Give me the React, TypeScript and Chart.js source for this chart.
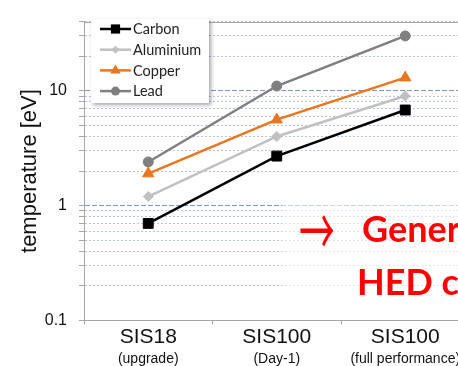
import React, { useEffect, useRef } from 'react';
import { Chart, registerables } from 'chart.js';

Chart.register(...registerables);

// ---- data ----
const categories = ['SIS18', 'SIS100', 'SIS100'];
const subLabels = ['(upgrade)', '(Day-1)', '(full performance)'];
const seriesNames = ['Carbon', 'Aluminium', 'Copper', 'Lead'];
const carbon = [0.7, 2.7, 6.8];
const aluminium = [1.2, 4.0, 9.0];
const copper = [1.9, 5.6, 13];
const lead = [2.4, 11, 30];
const yMin = 0.1;
const yMax = 40;
const yTickLabels = [0.1, 1, 10];

// ---- styles ----
const AXIS_FONT = '"Liberation Sans", Arial, sans-serif';
const LEGEND_FONT = 'Lato, "Open Sans", sans-serif';
const GRAY = '#a6a6a6';
const CANVAS_W = 500;
const CANVAS_H = 366;

const near = (a: number, b: number) => Math.abs(a - b) < 1e-9 * Math.max(1, Math.abs(b));
const isDecade = (v: number) => yTickLabels.some((t) => near(v, t));
const isWholeStep = (v: number) => {
  const m = v / Math.pow(10, Math.floor(Math.log10(v) + 1e-9));
  return Math.abs(m - Math.round(m)) < 1e-6;
};

function drawMarker(ctx: CanvasRenderingContext2D, style: string, x: number, y: number, r: number, color: string) {
  ctx.save();
  ctx.fillStyle = color;
  ctx.strokeStyle = color;
  ctx.beginPath();
  if (style === 'rect') {
    const s = r * Math.SQRT1_2;
    ctx.rect(x - s, y - s, 2 * s, 2 * s);
  } else if (style === 'rectRot') {
    ctx.moveTo(x, y - r);
    ctx.lineTo(x + r, y);
    ctx.lineTo(x, y + r);
    ctx.lineTo(x - r, y);
    ctx.closePath();
  } else if (style === 'triangle') {
    for (let k = 0; k < 3; k++) {
      const a = (k * 2 * Math.PI) / 3;
      const px = x + Math.sin(a) * r;
      const py = y - Math.cos(a) * r;
      if (k === 0) ctx.moveTo(px, py);
      else ctx.lineTo(px, py);
    }
    ctx.closePath();
  } else {
    ctx.arc(x, y, r, 0, Math.PI * 2);
  }
  ctx.fill();
  ctx.restore();
}

// frame on top of the plot area and the boxed legend
const framePlugin = {
  id: 'frameAndLegend',
  beforeDatasetsDraw(chart: any) {
    const { ctx, chartArea } = chart;
    ctx.save();
    ctx.strokeStyle = GRAY;
    ctx.lineWidth = 1;
    ctx.beginPath();
    const y = Math.round(chartArea.top) + 0.5;
    ctx.moveTo(chartArea.left, y);
    ctx.lineTo(chartArea.right, y);
    ctx.stroke();
    ctx.restore();
  },
  afterDraw(chart: any) {
    const ctx: CanvasRenderingContext2D = chart.ctx;
    const bx = 91;
    const by = 19;
    const bw = 118;
    const bh = 84;
    ctx.save();
    ctx.shadowColor = 'rgba(0,0,0,0.35)';
    ctx.shadowBlur = 4;
    ctx.shadowOffsetX = 2;
    ctx.shadowOffsetY = 2;
    ctx.fillStyle = '#ffffff';
    ctx.fillRect(bx, by, bw, bh);
    ctx.restore();

    const sizes: Record<string, number> = { rect: 6.5, rectRot: 4, triangle: 6, circle: 4.5 };
    chart.data.datasets.forEach((ds: any, i: number) => {
      const cy = by + 10 + i * 20.7;
      const x0 = bx + 9;
      const x1 = bx + 40;
      ctx.save();
      ctx.strokeStyle = ds.borderColor;
      ctx.lineWidth = 2.5;
      ctx.beginPath();
      ctx.moveTo(x0, cy);
      ctx.lineTo(x1, cy);
      ctx.stroke();
      ctx.restore();
      drawMarker(ctx, ds.pointStyle, (x0 + x1) / 2, cy, sizes[ds.pointStyle] || 4, ds.borderColor);
      ctx.save();
      ctx.fillStyle = '#222';
      ctx.font = `14.5px ${LEGEND_FONT}`;
      ctx.textBaseline = 'middle';
      ctx.textAlign = 'left';
      ctx.fillText(ds.label, x1 + 2, cy + 0.5);
      ctx.restore();
    });
  },
};

export default function App() {
  const canvasRef = useRef<HTMLCanvasElement | null>(null);

  useEffect(() => {
    const canvas = canvasRef.current;
    if (!canvas) return;

    const mk = (label: string, data: number[], color: string, pointStyle: string, radius: number) => ({
      label,
      data,
      xAxisID: 'x',
      yAxisID: 'y',
      borderColor: color,
      backgroundColor: color,
      pointBackgroundColor: color,
      pointBorderColor: color,
      borderWidth: 2.5,
      pointStyle,
      pointRadius: radius,
      pointBorderWidth: 1,
      tension: 0,
    });

    const gridDash = (c: any) => (c.tick ? (isDecade(c.tick.value) ? [5, 2] : [2, 2]) : []);

    const chart = new Chart(canvas, {
      type: 'line',
      data: {
        labels: categories,
        datasets: [
          mk(seriesNames[0], carbon, '#000000', 'rect', 7),
          mk(seriesNames[1], aluminium, '#c0c0c0', 'rectRot', 5),
          mk(seriesNames[2], copper, '#e8761e', 'triangle', 6.5),
          mk(seriesNames[3], lead, '#7f7f7f', 'circle', 5),
        ] as any,
      },
      options: {
        responsive: false,
        maintainAspectRatio: false,
        animation: false,
        devicePixelRatio: 1,
        layout: { padding: { top: 9, right: 30.5, left: 0, bottom: 0 } },
        plugins: {
          legend: { display: false },
          tooltip: { enabled: false },
        },
        scales: {
          x: {
            type: 'category',
            position: 'bottom',
            offset: true,
            weight: 0,
            grid: {
              offset: true,
              drawOnChartArea: false,
              drawTicks: true,
              tickLength: 4,
              color: GRAY,
              tickColor: GRAY,
            },
            border: { color: GRAY, width: 1 },
            ticks: {
              color: '#111',
              font: { family: AXIS_FONT, size: 21 },
              padding: 0,
              autoSkip: false,
              maxRotation: 0,
            },
            afterFit: (s: any) => {
              s.height = 28;
            },
          },
          x2: {
            type: 'category',
            position: 'bottom',
            labels: subLabels,
            offset: true,
            weight: 1,
            grid: { display: false, drawTicks: false },
            border: { display: false },
            ticks: {
              color: '#111',
              font: { family: AXIS_FONT, size: 14 },
              padding: 2,
              autoSkip: false,
              maxRotation: 0,
            },
            afterFit: (s: any) => {
              s.height = 17.5;
            },
          },
          y: {
            type: 'logarithmic',
            position: 'left',
            min: yMin,
            max: yMax,
            afterBuildTicks: (s: any) => {
              s.ticks = s.ticks.filter((t: any) => isWholeStep(t.value));
            },
            afterFit: (s: any) => {
              s.width = 84;
            },
            grid: {
              color: (c: any) => (c.tick && isDecade(c.tick.value) ? '#7f97c2' : '#b9c6da'),
              lineWidth: 1,
              drawTicks: true,
              tickLength: 5,
              tickColor: GRAY,
              tickBorderDash: [],
            } as any,
            border: { color: GRAY, width: 1, dash: gridDash } as any,
            ticks: {
              autoSkip: false,
              padding: 12,
              color: '#111',
              font: { family: AXIS_FONT, size: 16 },
              callback: (v: any) => {
                const n = Number(v);
                return isDecade(n) ? String(yTickLabels.find((t) => near(n, t))) : '';
              },
            },
            title: {
              display: true,
              text: 'temperature [eV]',
              color: '#111',
              font: { family: AXIS_FONT, size: 22 },
              padding: { top: 17, bottom: 0 },
            },
          },
        },
      } as any,
      plugins: [framePlugin],
    });

    return () => {
      chart.destroy();
    };
  }, []);

  const redText: React.CSSProperties = {
    position: 'absolute',
    fontFamily: 'Lato, "Open Sans", sans-serif',
    fontWeight: 700,
    fontSize: 36,
    lineHeight: '53px',
    color: '#ff0000',
    whiteSpace: 'nowrap',
  };

  return (
    <div
      style={{
        position: 'fixed',
        left: 0,
        top: 0,
        width: 458,
        height: 366,
        overflow: 'hidden',
        background: '#ffffff',
      }}
    >
      <canvas
        ref={canvasRef}
        width={CANVAS_W}
        height={CANVAS_H}
        style={{ position: 'absolute', left: 0, top: 0, width: CANVAS_W, height: CANVAS_H }}
      />
      <div
        style={{
          position: 'absolute',
          left: 282,
          top: 186,
          width: 200,
          height: 116,
          background: 'rgba(255,255,255,0.55)',
        }}
      />
      <div
        style={{
          ...redText,
          left: 299,
          top: 192,
          fontFamily: '"Noto Sans CJK JP", sans-serif',
          fontWeight: 400,
          fontSize: 66,
          lineHeight: '70px',
          transform: 'scaleX(0.54)',
          transformOrigin: 'left center',
        }}
      >
        →
      </div>
      <div style={{ ...redText, left: 362, top: 202 }}>Gener</div>
      <div style={{ ...redText, left: 357, top: 255 }}>HED c</div>
    </div>
  );
}
